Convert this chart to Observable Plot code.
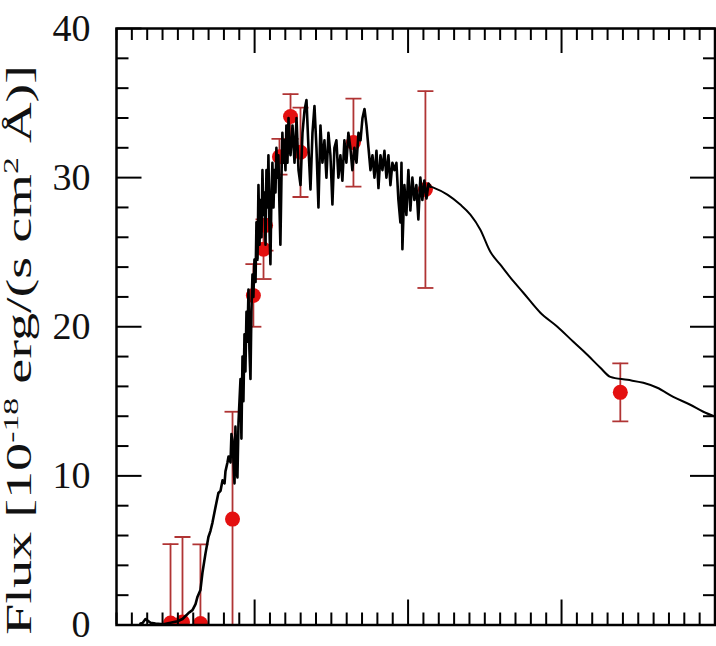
<!DOCTYPE html>
<html>
<head>
<meta charset="utf-8">
<script src="https://cdn.jsdelivr.net/npm/d3@7"></script>
<script src="https://cdn.jsdelivr.net/npm/@observablehq/plot@0.6"></script>
<style>
  html, body { margin: 0; padding: 0; background: #fff; }
  #chart { width: 716px; height: 646px; overflow: hidden; }
</style>
</head>
<body>
<div id="chart"></div>
<script>
// Observed spectrum (wavelength in Å, flux in 1e-18 erg/s/cm²/Å)
const specWave = [
  1280, 1350, 1445, 1510, 1610, 1770, 2030, 2260, 2490, 2650, 2845, 2975, 3075, 3140, 3235,
  3300, 3400, 3495, 3560, 3625, 3725, 3820, 3890, 3955, 4020, 4050, 4115, 4150, 4215, 4245,
  4280, 4345, 4375, 4410, 4440, 4475,
  4540, 4570, 4605, 4635, 4670, 4700, 4735, 4765, 4800, 4830, 4865, 4895, 4930, 4960, 4995,
  5030, 5060, 5095, 5125, 5160, 5190, 5225, 5255, 5290, 5320, 5355, 5385, 5420, 5450, 5485,
  5515, 5550, 5580, 5615, 5645, 5680, 5710, 5745, 5775, 5810, 5840, 5875, 5905, 5940, 5970,
  6005, 6035, 6070, 6105, 6135, 6170, 6235, 6300, 6365, 6430, 6495, 6560, 6625, 6690, 6755,
  6820, 6885, 6950, 7015, 7080, 7145, 7210, 7275, 7340, 7405, 7470, 7535, 7600, 7665, 7730,
  7795, 7860, 7925, 7990, 8055, 8120, 8185, 8250, 8320, 8385, 8450, 8515, 8580, 8645, 8710,
  8775, 8840, 8905, 8970, 9035, 9100, 9165, 9230, 9295, 9360, 9425, 9490, 9555, 9620, 9685,
  9750, 9785, 9815, 9880, 9945, 10010, 10075, 10140, 10205, 10270, 10335, 10400, 10465, 10530, 10600,
  10665, 10730
];
const specFlux = [
  0.1, 0.13, 0.4, 0.3, 0.15, 0.1, 0.05, 0.15, 0.25, 0.4, 0.8, 1.0, 1.4, 1.9, 2.35,
  3.5, 4.8, 5.9, 6.3, 6.85, 7.9, 8.85, 9.0, 9.7, 9.5, 10.3, 10.9, 11.3, 10.9, 12.8,
  12.4, 9.5, 13.3, 10.5, 9.9, 13.6,
  16.5, 12.5, 18, 15, 19.5, 17, 21, 19, 22.5, 18.5, 16.5, 21, 23.5, 22, 24.5,
  23, 27, 24.5, 29.5, 25.5, 28.5, 26, 30.5, 27.5, 29, 25.5, 30.5, 28, 31.5, 26.5,
  24.2, 29, 31, 28, 30.5, 29, 32, 30, 31.5, 28, 25.5, 30, 33, 31, 32.5,
  30.5, 33.5, 31, 34, 32, 31.5, 33.5, 31, 34, 30.5, 29.5, 33, 34.5, 35.2, 32,
  29.2, 33, 34.8, 32, 28, 33.5, 31, 32.5, 30, 33, 31.5, 28.2, 32, 32.5, 30,
  31.5, 29.8, 32.5, 31, 33, 32, 30.5, 32, 31, 33, 32.5, 34, 34.6, 33.5, 32,
  30.5, 31.5, 30, 31.8, 29.3, 31.5, 30.5, 31.8, 30, 31.5, 29.5, 31, 30.5, 31, 28.5,
  27, 31, 25.2, 29.5, 27.5, 30.5, 27.8, 30, 28.5, 29.5, 27.2, 30, 28.5, 29.8, 28.6,
  29.6, 29.4
];

// Smooth model continuum redward of the spectrum
const modelWave = [10730, 10825, 11280, 11700, 12030, 12355, 12680, 13005, 13335, 13755, 14310,
  14865, 15385, 15840, 16265, 16590, 17145, 17665, 18120, 18640, 19195, 19620, 20000];
const modelFlux = [29.4, 29.33, 28.86, 28.19, 27.52, 26.51, 25.03, 24.16, 23.29, 22.28, 20.94,
  20.0, 18.99, 18.12, 17.25, 16.64, 16.44, 16.24, 15.91, 15.3, 14.77, 14.3, 13.97];

// Broad-band photometry with 1-sigma errors
const photWave = [2260, 2650, 3235, 4280, 4960, 5290, 5355, 5810, 6170, 6495, 8220, 10565, 16915];
const photFlux = [0.13, 0.2, 0.1, 7.1, 22.1, 25.2, 26.8, 31.4, 34.1, 31.7, 32.35, 29.2, 15.6];
const photErr  = [5.3, 5.7, 5.3, 7.2, 2.1, 2.0, 1.7, 1.2, 1.5, 3.0, 2.95, 6.6, 1.95];

// Axis ticks
const yMajor = [0, 10, 20, 30, 40];
const yMinor = [2, 4, 6, 8, 12, 14, 16, 18, 22, 24, 26, 28, 32, 34, 36, 38];
const xMajor = [5000, 10000, 15000, 20000];
const xMinor = [500, 1000, 1500, 2000, 2500, 3000, 3500, 4000, 4500, 5500, 6000, 6500, 7000, 7500,
  8000, 8500, 9000, 9500, 10500, 11000, 11500, 12000, 12500, 13000, 13500, 14000, 14500, 15500,
  16000, 16500, 17000, 17500, 18000, 18500, 19000, 19500];

const spectrum = specWave.map((w, i) => ({w, f: specFlux[i]}));
const model = modelWave.map((w, i) => ({w, f: modelFlux[i]}));
const phot = photWave.map((w, i) => ({w, f: photFlux[i], e: photErr[i]}));

const W = 716, H = 646;
const margin = {left: 116, right: 1.5, top: 28, bottom: 21.5};
const innerW = W - margin.left - margin.right;
const innerH = H - margin.top - margin.bottom;
const xDomain = [500, 20000];
const pxWave = (xDomain[1] - xDomain[0]) / innerW; // Å per pixel along x

// Horizontal bar used as an error-bar cap
const capSymbol = {
  draw(context, size) {
    const r = Math.sqrt(size / Math.PI);
    context.moveTo(-r, 0);
    context.lineTo(r, 0);
  }
};

// Inward-pointing tick marks
function xTicks(values, side, length) {
  const inset = side === "bottom" ? {insetTop: innerH - length} : {insetBottom: innerH - length};
  return Plot.ruleX(values, {x: d => d, ...inset, stroke: "#000", strokeWidth: 2});
}
function yTicks(values, side, length) {
  const x1 = side === "left" ? xDomain[0] : xDomain[1];
  const x2 = side === "left" ? xDomain[0] + length * pxWave : xDomain[1] - length * pxWave;
  return Plot.link(values, {x1: () => x1, x2: () => x2, y1: d => d, y2: d => d, stroke: "#000", strokeWidth: 2});
}

const barColor = "#b03434";
const dotColor = "#e41010";
const font = "'Liberation Serif', 'Times New Roman', serif";

const chart = Plot.plot({
  width: W,
  height: H,
  marginLeft: margin.left,
  marginRight: margin.right,
  marginTop: margin.top,
  marginBottom: margin.bottom,
  style: {fontFamily: font, background: "#fff"},
  x: {domain: xDomain, axis: null},
  y: {domain: [0, 40], axis: null},
  marks: [
    // y tick labels
    Plot.text(yMajor, {y: d => d, text: d => String(d), frameAnchor: "left", textAnchor: "end", dx: -26, fontSize: 38, fill: "#111"}),
    // photometric error bars, caps and points
    Plot.ruleX(phot, {x: "w", y1: d => d.f - d.e, y2: d => d.f + d.e, stroke: barColor, strokeWidth: 1.8, clip: true}),
    Plot.dot(phot, {x: "w", y: d => d.f + d.e, symbol: capSymbol, r: 8, stroke: barColor, strokeWidth: 1.8, clip: true}),
    Plot.dot(phot, {x: "w", y: d => d.f - d.e, symbol: capSymbol, r: 8, stroke: barColor, strokeWidth: 1.8, clip: true}),
    Plot.dot(phot, {x: "w", y: "f", r: 7.5, fill: dotColor, stroke: "none", clip: true}),
    // spectrum and continuum
    Plot.line(spectrum, {x: "w", y: "f", stroke: "#000", strokeWidth: 2.6, clip: true}),
    Plot.line(model, {x: "w", y: "f", stroke: "#000", strokeWidth: 2, curve: "monotone-x", clip: true}),
    // inward ticks on all four sides
    xTicks(xMajor, "bottom", 25),
    xTicks(xMinor, "bottom", 12),
    xTicks(xMajor, "top", 25),
    xTicks(xMinor, "top", 12),
    yTicks(yMajor, "left", 25),
    yTicks(yMinor, "left", 12),
    yTicks(yMajor, "right", 25),
    yTicks(yMinor, "right", 12),
    Plot.frame({stroke: "#000", strokeWidth: 2.5})
  ]
});

// rotated y-axis title with superscripts
const title = d3.select(chart).append("text")
  .attr("transform", "translate(31,350) rotate(-90)")
  .attr("text-anchor", "middle")
  .attr("font-family", font)
  .attr("font-size", 35)
  .attr("fill", "#111")
  .attr("textLength", 570)
  .attr("lengthAdjust", "spacingAndGlyphs");
title.append("tspan").text("Flux [10");
title.append("tspan").attr("font-size", 21).attr("dy", -13).text("-18");
title.append("tspan").attr("dy", 13).text(" erg/(s cm");
title.append("tspan").attr("font-size", 21).attr("dy", -13).text("2");
title.append("tspan").attr("dy", 13).text(" Å)]");

document.getElementById("chart").appendChild(chart);
</script>
</body>
</html>
